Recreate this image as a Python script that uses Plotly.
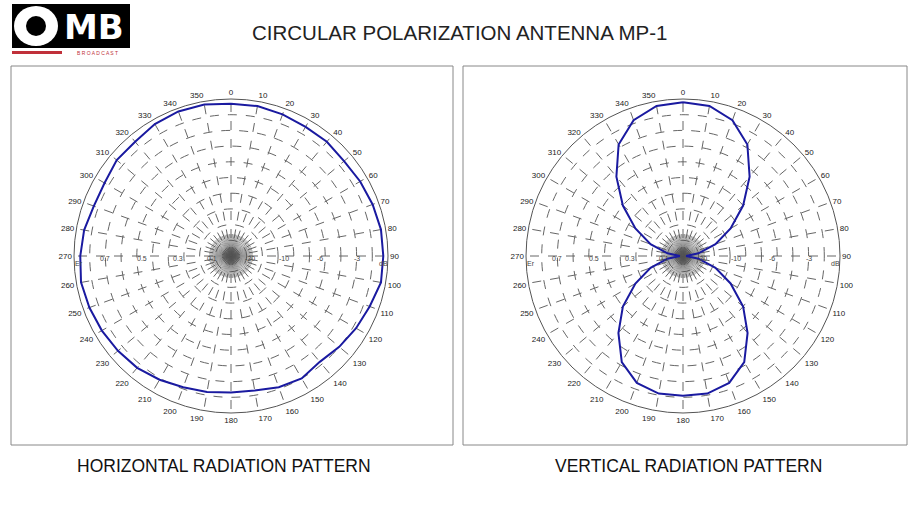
import plotly.graph_objects as go

angles = list(range(0, 360, 10))
horiz_r = [0.97,0.97,0.96,0.95,0.95,0.94,0.95,0.96,0.97,0.97,0.97,0.94,0.92,0.90,0.88,0.90,0.89,0.87,
           0.87,0.88,0.89,0.91,0.93,0.94,0.95,0.96,0.97,0.96,0.95,0.93,0.93,0.95,0.95,0.97,0.98,0.98]
vert_r = [0.98,0.97,0.92,0.82,0.66,0.50,0.35,0.22,0.10,0.02,0.10,0.22,0.35,0.50,0.64,0.78,0.86,0.89,
          0.89,0.89,0.86,0.78,0.64,0.50,0.35,0.22,0.10,0.02,0.10,0.22,0.35,0.50,0.66,0.82,0.92,0.97]
angle_labels = [str(a) for a in angles]
left_labels = ["0.1", "0.3", "0.5", "0.7"]
right_labels = ["-20", "-10", "-6", "-3"]
label_r = [0.12, 0.34, 0.57, 0.8]

fig = go.Figure()
W, H = 920, 519
R = 157
def dom(cx, cy, R):
    return dict(x=[(cx-R)/W, (cx+R)/W], y=[1-(cy+R)/H, 1-(cy-R)/H])

def ann(x, y, text, size, color="#444", **kw):
    fig.add_annotation(x=x/W, y=1-y/H, xref="paper", yref="paper", text=text, showarrow=False,
                       xanchor="center", yanchor="middle", font=dict(size=size, color=color, **kw))

for name, r, cx in [("polar", horiz_r, 231), ("polar2", vert_r, 683)]:
    for a in range(0, 360, 4):
        fig.add_trace(go.Scatterpolar(r=[0, 0.14], theta=[a, a], mode="lines",
                                      line=dict(color="#555", width=0.6), subplot=name,
                                      showlegend=False, hoverinfo="skip"))
    fig.add_trace(go.Scatterpolar(r=r + [r[0]], theta=angles + [0], mode="lines",
                                  line=dict(color="#1a1aa0", width=2), subplot=name,
                                  showlegend=False))
    fig.update_layout(**{name: dict(
        domain=dom(cx, 256, R), bgcolor="white",
        radialaxis=dict(range=[0, 1], tickvals=[i/10 for i in range(1, 11)], showticklabels=False,
                        ticks="", gridcolor="#666", griddash="dash", gridwidth=0.8, showline=False),
        angularaxis=dict(rotation=90, direction="clockwise", tickmode="array", tickvals=angles,
                         ticktext=angle_labels, ticks="", gridcolor="#666", griddash="dash",
                         gridwidth=0.8, linecolor="#555", tickfont=dict(size=8, color="#222")),
    )})
    for lbl, rr in zip(left_labels, label_r):
        ann(cx - rr*R, 258, lbl, 7)
    for lbl, rr in zip(right_labels, label_r):
        ann(cx + rr*R, 258, lbl, 7)
    ann(cx + R - 5, 263, "dB", 7)
    ann(cx - R + 5, 263, "Er", 7)

shapes = [
    dict(type="rect", xref="paper", yref="paper", x0=11/W, x1=453/W, y0=1-445/H, y1=1-66/H,
         line=dict(color="#888", width=1)),
    dict(type="rect", xref="paper", yref="paper", x0=463/W, x1=907/W, y0=1-445/H, y1=1-66/H,
         line=dict(color="#888", width=1)),
    dict(type="rect", xref="paper", yref="paper", x0=12/W, x1=130/W, y0=1-48/H, y1=1-4/H,
         fillcolor="black", line=dict(width=0)),
    dict(type="circle", xref="paper", yref="paper", x0=14/W, x1=58/W, y0=1-46/H, y1=1-6/H,
         fillcolor="white", line=dict(width=0)),
    dict(type="circle", xref="paper", yref="paper", x0=26/W, x1=46/W, y0=1-36/H, y1=1-16/H,
         fillcolor="black", line=dict(width=0)),
    dict(type="rect", xref="paper", yref="paper", x0=12/W, x1=62/W, y0=1-54/H, y1=1-51/H,
         fillcolor="#c0303a", line=dict(width=0)),
]
ann(94, 27, "<b>MB</b>", 34, color="white", family="DejaVu Sans")
ann(97, 53, "B R O A D C A S T", 5, color="#c0303a")
ann(459, 32, "CIRCULAR POLARIZATION ANTENNA MP-1", 20.5, color="#222", family="Liberation Sans")
ann(224, 466, "HORIZONTAL RADIATION PATTERN", 17.5, color="#111", family="Liberation Sans")
ann(688, 466, "VERTICAL RADIATION PATTERN", 17.5, color="#111", family="Liberation Sans")

fig.update_layout(width=W, height=H, margin=dict(l=0, r=0, t=0, b=0), paper_bgcolor="white",
                  shapes=shapes, font=dict(family="Liberation Sans"))
fig.write_html("out.html", config={"displayModeBar": False},
               post_script="document.body.style.margin='0';document.body.style.overflow='hidden';")
